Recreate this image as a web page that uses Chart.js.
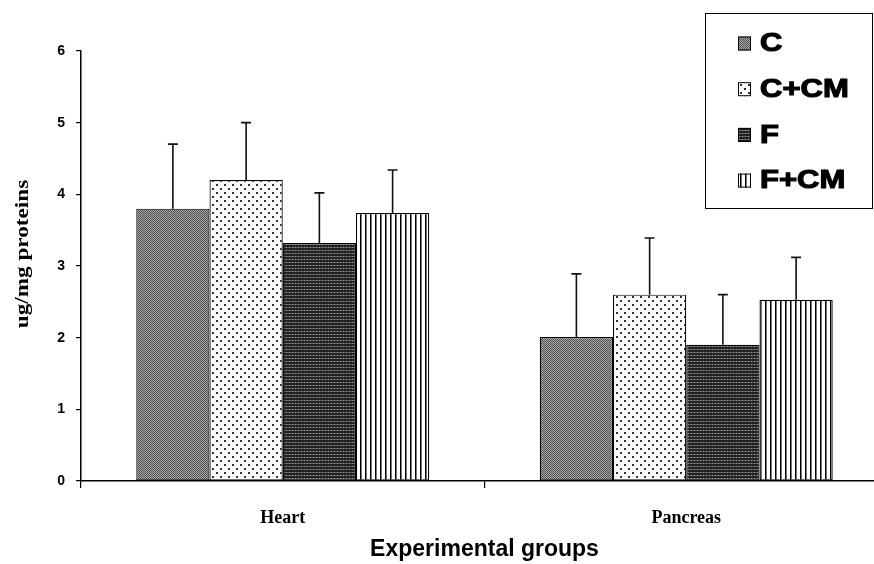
<!DOCTYPE html>
<html>
<head>
<meta charset="utf-8">
<script src="https://cdn.jsdelivr.net/npm/chart.js@4.4.0/dist/chart.umd.min.js"></script>
<style>
  html, body { margin: 0; padding: 0; background: #fff; overflow: hidden; }
  #wrap { width: 890px; height: 564px; }
</style>
</head>
<body>
<div id="wrap"><canvas id="myChart" width="890" height="564"></canvas></div>
<script>
const groups = ["Heart", "Pancreas"];
const seriesNames = ["C", "C+CM", "F", "F+CM"];
const valuesC = [3.80, 2.01];
const valuesCCM = [4.20, 2.60];
const valuesF = [3.32, 1.90];
const valuesFCM = [3.74, 2.53];
const errC = [0.90, 0.88];
const errCCM = [0.80, 0.79];
const errF = [0.70, 0.70];
const errFCM = [0.60, 0.59];
const yTicks = [0, 1, 2, 3, 4, 5, 6];
const yTitle = "ug/mg proteins";

// little tile patterns like the old excel fills
function makePattern(size, draw) {
    const c = document.createElement("canvas");
    c.width = size; c.height = size;
    const g = c.getContext("2d");
    draw(g);
    return document.getElementById("myChart").getContext("2d").createPattern(c, "repeat");
}

const patC = makePattern(2, g => {
    g.fillStyle = "#a8a8a8"; g.fillRect(0, 0, 2, 2);
    g.fillStyle = "#505050"; g.fillRect(0, 0, 1, 1); g.fillRect(1, 1, 1, 1);
});
const patCCM = makePattern(8, g => {
    g.fillStyle = "#fff"; g.fillRect(0, 0, 8, 8);
    g.fillStyle = "#333";
    g.fillRect(0, 0, 2, 2); g.fillRect(4, 4, 2, 2);
});
const patF = makePattern(3, g => {
    g.fillStyle = "#222"; g.fillRect(0, 0, 3, 3);
    g.fillStyle = "#999"; g.fillRect(1, 1, 1, 1);
    g.fillStyle = "#555"; g.fillRect(0, 1, 1, 1); g.fillRect(2, 1, 1, 1);
});
const patFCM = makePattern(5, g => {
    g.fillStyle = "#fff"; g.fillRect(0, 0, 5, 5);
    g.fillStyle = "#000"; g.fillRect(0, 0, 1, 5);
    g.fillStyle = "#777"; g.fillRect(1, 0, 1, 5);
});

const errors = [errC, errCCM, errF, errFCM];

const errorBars = {
    id: "errorBars",
    afterDatasetsDraw(chart) {
        const ctx = chart.ctx;
        const y = chart.scales.y;
        ctx.save();
        ctx.strokeStyle = "#111";
        ctx.lineWidth = 1.6;
        chart.data.datasets.forEach((ds, i) => {
            const meta = chart.getDatasetMeta(i);
            meta.data.forEach((bar, j) => {
                const top = y.getPixelForValue(ds.data[j] + errors[i][j]);
                ctx.beginPath();
                ctx.moveTo(bar.x, bar.y);
                ctx.lineTo(bar.x, top);
                ctx.moveTo(bar.x - 5, top);
                ctx.lineTo(bar.x + 5, top);
                ctx.stroke();
            });
        });
        ctx.restore();
    }
};

// boxed legend + the stretched y title
const extras = {
    id: "extras",
    afterDraw(chart) {
        const ctx = chart.ctx;
        ctx.save();
        ctx.strokeStyle = "#000";
        ctx.lineWidth = 1;
        ctx.strokeRect(705.5, 13.5, 167, 195);
        ctx.font = "bold 25px Arial, 'Liberation Sans'";
        ctx.textBaseline = "middle";
        chart.data.datasets.forEach((ds, i) => {
            const cy = 43.5 + i * 45.7;
            ctx.fillStyle = ds.backgroundColor;
            ctx.fillRect(738, cy - 7, 13, 14);
            ctx.strokeStyle = "#000";
            ctx.lineWidth = 1;
            ctx.strokeRect(738.5, cy - 6.5, 12, 13);
            ctx.fillStyle = "#000";
            ctx.save();
            ctx.translate(760, cy + 1);
            ctx.scale(1.24, 1);
            ctx.lineWidth = 1.1;
            ctx.fillText(ds.label, 0, 0);
            ctx.strokeText(ds.label, 0, 0);
            ctx.restore();
        });

        ctx.save();
        ctx.translate(23, 254);
        ctx.rotate(-Math.PI / 2);
        ctx.scale(1.22, 1);
        ctx.font = "bold 19px 'Times New Roman', 'Liberation Serif'";
        ctx.textAlign = "center";
        ctx.textBaseline = "middle";
        ctx.fillStyle = "#000";
        ctx.fillText(yTitle, 0, 0);
        ctx.restore();
        ctx.restore();
    }
};

const ctx = document.getElementById("myChart").getContext("2d");
const myChart = new Chart(ctx, {
    type: "bar",
    data: {
        labels: groups,
        datasets: [
            { label: seriesNames[0], data: valuesC, backgroundColor: patC },
            { label: seriesNames[1], data: valuesCCM, backgroundColor: patCCM },
            { label: seriesNames[2], data: valuesF, backgroundColor: patF },
            { label: seriesNames[3], data: valuesFCM, backgroundColor: patFCM }
        ].map(d => Object.assign(d, {
            borderColor: "#000",
            borderWidth: 1.2,
            borderSkipped: false,
            barPercentage: 1,
            categoryPercentage: 0.726
        }))
    },
    options: {
        responsive: false,
        animation: false,
        layout: { padding: { top: 51, right: 2, left: 0, bottom: 0 } },
        plugins: {
            legend: { display: false },
            tooltip: { enabled: false }
        },
        scales: {
            x: {
                offset: true,
                grid: { display: true, offset: true, drawOnChartArea: false, tickLength: 7, color: "#000", lineWidth: 1.2 },
                border: { color: "#000", width: 1.5 },
                ticks: { color: "#000", padding: 20, font: { family: "'Times New Roman', 'Liberation Serif'", size: 18, weight: "bold" } },
                title: {
                    display: true,
                    text: "Experimental groups",
                    color: "#000",
                    padding: { top: 4, bottom: 1 },
                    font: { family: "Arial, 'Liberation Sans'", size: 23, weight: "bold" }
                },
                afterFit(scale) { scale.height = 83; }
            },
            y: {
                min: 0,
                max: 6,
                afterBuildTicks(scale) { scale.ticks = yTicks.map(v => ({ value: v })); },
                grid: { display: true, drawOnChartArea: false, tickLength: 5, color: "#000", lineWidth: 1.2 },
                border: { color: "#000", width: 1.5 },
                ticks: { color: "#000", padding: 11, font: { family: "Arial, 'Liberation Sans'", size: 14, weight: "bold" } },
                afterFit(scale) { scale.width = 81; }
            }
        }
    },
    plugins: [errorBars, extras]
});
</script>
</body>
</html>
